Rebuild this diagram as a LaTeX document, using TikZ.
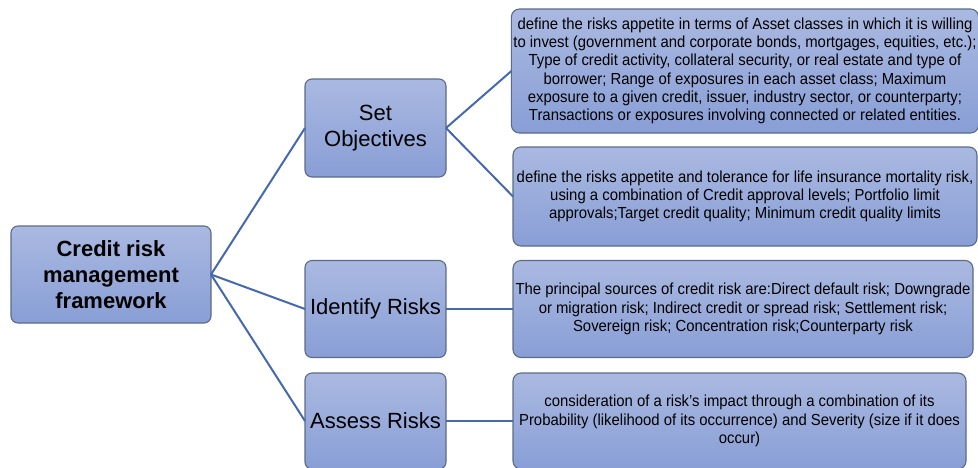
\documentclass[tikz,border=0pt]{standalone}
\usepackage{fontspec}
\setmainfont{Liberation Sans}
\newfontfamily\bodyfont[FakeStretch=0.93]{Liberation Sans}
\definecolor{bordercol}{RGB}{92,106,136}
\definecolor{linecol}{RGB}{68,105,176}
\definecolor{filltop}{RGB}{170,185,225}
\definecolor{fillbot}{RGB}{136,158,213}
\begin{document}
\begin{tikzpicture}[x=1pt,y=-1pt,
  box/.style={draw=bordercol, line width=1.1pt, rounded corners=7pt,
    top color=filltop, bottom color=fillbot, align=center,
    inner sep=2pt, outer sep=0pt},
  mainbox/.style={box, font=\fontsize{22}{26}\selectfont},
  rootbox/.style={box, font=\bfseries\fontsize{22}{26}\selectfont},
  descbox/.style={box, rounded corners=8pt, font=\bodyfont\fontsize{16}{18.3}\selectfont},
  link/.style={draw=linecol, line width=2pt}]
\useasboundingbox (0,0) rectangle (978,467);
\clip (0,0) rectangle (978,467);

\node[rootbox, minimum width=200pt, minimum height=97pt] (root) at (111,274.5)
  {Credit risk\\management\\framework};
\node[mainbox, minimum width=141pt, minimum height=98pt] (so) at (375.5,128)
  {Set\\Objectives};
\node[mainbox, minimum width=141pt, minimum height=97pt] (ir) at (375.5,309)
  {Identify Risks};
\node[mainbox, minimum width=141pt, minimum height=96pt] (ar) at (375.5,421)
  {Assess Risks};

\node[descbox, minimum width=464pt, minimum height=124pt] (b1) at (745,71)
  {define the risks appetite in terms of Asset classes in which it is willing\\
   to invest (government and corporate bonds, mortgages, equities, etc.);\\
   Type of credit activity,  collateral security, or real estate and type of\\
   borrower; Range of exposures in each asset class; Maximum\\
   exposure to a given credit, issuer, industry sector, or counterparty;\\
   Transactions or exposures involving connected or related entities.};
\node[descbox, minimum width=464pt, minimum height=99pt] (b2) at (745,196.5)
  {define the risks appetite and tolerance for life insurance mortality risk,\\
   using a combination of Credit approval levels; Portfolio limit\\
   approvals;Target credit quality; Minimum credit quality limits};
\node[descbox, minimum width=460pt, minimum height=97pt] (b3) at (743,309)
  {The principal sources of credit risk are:Direct default risk; Downgrade\\
   or migration risk; Indirect credit or spread risk; Settlement risk;\\
   Sovereign risk; Concentration risk;Counterparty risk};
\node[descbox, minimum width=453pt, minimum height=96pt] (b4) at (739.5,421)
  {consideration of a risk’s impact through a combination of its\\
   Probability (likelihood of its occurrence) and Severity (size  if it does\\
   occur)};

\draw[link] (root.east) -- (so.west);
\draw[link] (root.east) -- (ir.west);
\draw[link] (root.east) -- (ar.west);
\draw[link] (so.east) -- (b1.west);
\draw[link] (so.east) -- (b2.west);
\draw[link] (ir.east) -- (b3.west);
\draw[link] (ar.east) -- (b4.west);
\end{tikzpicture}
\end{document}
